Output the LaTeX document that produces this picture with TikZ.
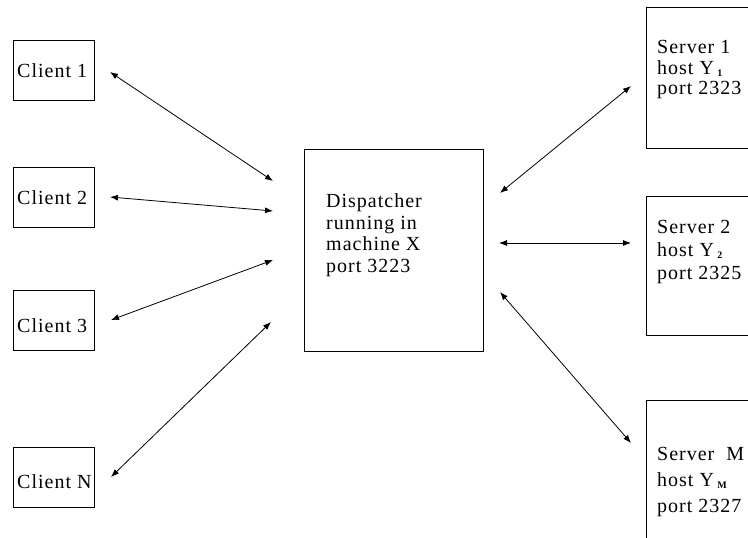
\documentclass[tikz,border=0pt]{standalone}
\usepackage{fontspec}
\setmainfont[LetterSpace=5]{Liberation Serif}
\usetikzlibrary{arrows.meta}
\tikzset{
  box/.style={draw=black, line width=1pt, inner sep=0pt, anchor=north west},
  txt/.style={anchor=base west, inner sep=0pt, font=\fontsize{20}{21}\selectfont},
  link/.style={draw=black, line width=0.8pt, {Latex[length=8pt,width=6pt]}-{Latex[length=8pt,width=6pt]}}
}
\newcommand{\subidx}[1]{\,\raisebox{-2.5pt}{\fontsize{10}{10}\selectfont\bfseries #1}}
\begin{document}
\begin{tikzpicture}[x=1pt,y=-1pt]
\useasboundingbox (0,0) rectangle (748,538);
\clip (0,0) rectangle (748,538);
% clients
\node[box, minimum width=81pt, minimum height=60pt] (c1) at (12.5,40) {};
\node[box, minimum width=81pt, minimum height=60pt] (c2) at (12.5,167) {};
\node[box, minimum width=81pt, minimum height=60pt] (c3) at (12.5,290) {};
\node[box, minimum width=81pt, minimum height=60pt] (cn) at (12.5,447) {};
\node[txt] (t1) at (17,77) {Client 1};
\node[txt] (t2) at (17,204) {Client 2};
\node[txt] (t3) at (17,332) {Client 3};
\node[txt] (tn) at (17,488) {Client N};
% dispatcher
\node[box, minimum width=179pt, minimum height=202pt] (d) at (304,149) {};
\node[txt] (d1) at (326,207) {Dispatcher};
\node[txt] (d2) at (326,229) {running in};
\node[txt] (d3) at (326,250.5) {machine X};
\node[txt] (d4) at (326,272) {port 3223};
% servers
\node[box, minimum width=140pt, minimum height=141pt] (s1) at (646,7) {};
\node[box, minimum width=140pt, minimum height=139pt] (s2) at (646,196) {};
\node[box, minimum width=140pt, minimum height=160pt] (sm) at (646,400) {};
\node[txt] (s1a) at (657,53) {Server 1};
\node[txt] (s1b) at (657,74) {host Y\subidx{1}};
\node[txt] (s1c) at (657,94) {port 2323};
\node[txt] (s2a) at (657,233) {Server 2};
\node[txt] (s2b) at (657,256) {host Y\subidx{2}};
\node[txt] (s2c) at (657,279) {port 2325};
\node[txt] (sma) at (657,460) {Server\ \ M};
\node[txt] (smb) at (657,486) {host Y\subidx{M}};
\node[txt] (smc) at (657,512) {port 2327};
% connector end points
\coordinate (a1) at (110,72);  \coordinate (b1) at (273,181);
\coordinate (a2) at (110,197); \coordinate (b2) at (273,211);
\coordinate (a3) at (111,320); \coordinate (b3) at (273,260);
\coordinate (an) at (111,477); \coordinate (bn) at (271,322);
\coordinate (p1) at (500,193); \coordinate (q1) at (631,86);
\coordinate (p2) at (499,243); \coordinate (q2) at (631,243);
\coordinate (pm) at (500,292); \coordinate (qm) at (631,443);
\draw[link] (a1) -- (b1);
\draw[link] (a2) -- (b2);
\draw[link] (a3) -- (b3);
\draw[link] (an) -- (bn);
\draw[link] (p1) -- (q1);
\draw[link] (p2) -- (q2);
\draw[link] (pm) -- (qm);
\end{tikzpicture}
\end{document}
